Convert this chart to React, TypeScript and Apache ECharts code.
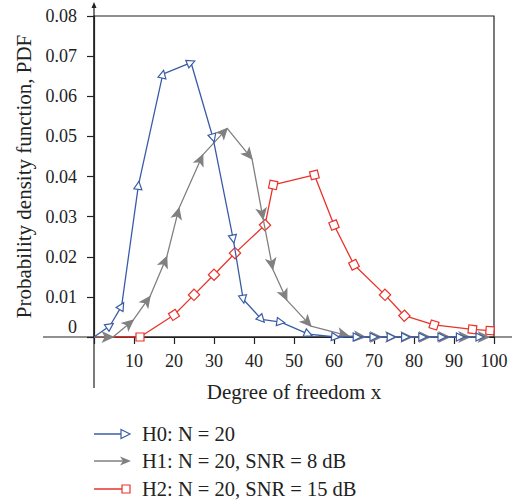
import React, { useEffect, useRef } from "react";
import * as echarts from "echarts";

const xTicks = [0, 10, 20, 30, 40, 50, 60, 70, 80, 90, 100];
const yTicks = [0, 0.01, 0.02, 0.03, 0.04, 0.05, 0.06, 0.07, 0.08];

const h0X = [0, 4, 6.9, 11.1, 17.2, 24.25, 29.75, 34.8, 37.3, 41.9, 46.7, 53.6, 60.4, 65.8, 70, 74.3, 77.9, 82.2, 87, 91.6, 96.5];
const h0Y = [0, 0.0028, 0.0077, 0.0378, 0.0655, 0.0684, 0.0496, 0.0244, 0.0094, 0.0044, 0.0037, 0.0007, 0, 0, 0, 0, 0, 0, 0, 0, 0];

const h1X = [0, 4.75, 9.8, 14, 18.2, 21.25, 27.2, 33.3, 39.5, 42.3, 44.7, 48.2, 54.25, 63.6, 67.75, 71.8, 75.6, 79.45, 84, 88.9, 93.9, 98.75];
const h1Y = [0, 0, 0.0042, 0.0101, 0.02, 0.0321, 0.0454, 0.052, 0.0444, 0.0294, 0.0169, 0.0092, 0.0027, 0.0003, 0, 0, 0, 0, 0, 0, 0, 0];

const h2X = [0, 11.5, 20, 25, 30, 35.25, 42.75, 44.8, 55.1, 60, 65, 72.75, 77.6, 85, 94.6, 99];
const h2Y = [0, 0, 0.0055, 0.0105, 0.0155, 0.0209, 0.0279, 0.0379, 0.0404, 0.0279, 0.018, 0.0105, 0.0053, 0.003, 0.0019, 0.0016];

const seriesNames = ["H0: N = 20", "H1: N = 20, SNR = 8 dB", "H2: N = 20, SNR = 15 dB"];
const BLUE = "#3a5ca8";
const GRAY = "#808080";
const RED = "#e8322a";
const FONT = "Liberation Serif";

const zip = (xs: number[], ys: number[]) => xs.map((x, i) => [x, ys[i]]);

export default function App() {
  const ref = useRef<HTMLDivElement>(null);
  useEffect(() => {
    document.body.style.margin = "0";
    const chart = echarts.init(ref.current!, undefined, { renderer: "svg" });
    const sets = [zip(h0X, h0Y), zip(h1X, h1Y), zip(h2X, h2Y)];
    const symbols = ["triangle", "arrow", "rect"];
    const colors = [BLUE, GRAY, RED];
    const sizes: any[] = [[8, 8], [7, 10], 8];

    const makeSeries = (rots: number[][] | null) =>
      sets.map((d, s) => ({
        type: "line",
        name: seriesNames[s],
        z: 3 - s,
        data: d.map((p, i) => ({
          value: p,
          symbol: i === 0 ? "none" : symbols[s],
          symbolRotate: rots ? rots[s][i] : 0,
        })),
        symbolSize: sizes[s],
        showAllSymbol: true,
        lineStyle: { color: colors[s], width: 1.3 },
        itemStyle: {
          color: s === 1 ? GRAY : "#ffffff",
          borderColor: colors[s],
          borderWidth: 1.2,
        },
      }));

    const ly = [434, 461, 489];
    const legendGraphics: any[] = [];
    ly.forEach((yy, s) => {
      legendGraphics.push({
        type: "line",
        shape: { x1: 94, y1: yy, x2: 127, y2: yy },
        style: { stroke: colors[s], lineWidth: 1.3 },
      });
      if (s === 0) {
        legendGraphics.push({
          type: "polygon",
          shape: { points: [[121, yy - 4.5], [130, yy], [121, yy + 4.5]] },
          style: { fill: "#fff", stroke: BLUE, lineWidth: 1.2 },
        });
      } else if (s === 1) {
        legendGraphics.push({
          type: "polygon",
          shape: { points: [[120, yy - 4.5], [131, yy], [120, yy + 4.5], [123, yy]] },
          style: { fill: GRAY },
        });
      } else {
        legendGraphics.push({
          type: "rect",
          shape: { x: 122, y: yy - 4, width: 8, height: 8 },
          style: { fill: "#fff", stroke: RED, lineWidth: 1.2 },
        });
      }
      legendGraphics.push({
        type: "text",
        x: 142,
        y: yy,
        style: {
          text: seriesNames[s],
          font: `20.5px "${FONT}"`,
          fill: "#222",
          verticalAlign: "middle",
          align: "left",
        },
      });
    });

    const axisGraphics = [
      { type: "line", shape: { x1: 94, y1: 4, x2: 94, y2: 388 }, style: { stroke: "#222", lineWidth: 1.2 } },
      { type: "line", shape: { x1: 43, y1: 337, x2: 512, y2: 337 }, style: { stroke: "#222", lineWidth: 1.2 } },
      { type: "polygon", shape: { points: [[91.5, 8], [94, 2], [96.5, 8]] }, style: { fill: "#222" } },
    ];

    const option: any = {
      animation: false,
      backgroundColor: "#ffffff",
      grid: {
        left: 94,
        right: 18,
        top: 16,
        bottom: 165,
        show: true,
        borderColor: "#222",
        borderWidth: 1.2,
      },
      xAxis: {
        type: "value",
        min: xTicks[0],
        max: xTicks[xTicks.length - 1],
        interval: 10,
        name: "Degree of freedom x",
        nameLocation: "middle",
        nameGap: 44,
        nameTextStyle: { fontFamily: FONT, fontSize: 21, color: "#222" },
        axisLine: { show: true, lineStyle: { color: "#222", width: 1.2 } },
        axisTick: { show: true, length: 7, lineStyle: { color: "#222", width: 1.2 } },
        axisLabel: {
          margin: 15,
          fontFamily: FONT,
          fontSize: 18,
          color: "#222",
          formatter: (v: number) => (v === 0 ? "" : String(v)),
        },
        splitLine: { show: false },
      },
      yAxis: {
        type: "value",
        min: yTicks[0],
        max: yTicks[yTicks.length - 1],
        interval: 0.01,
        name: "Probability density function, PDF",
        nameLocation: "middle",
        nameGap: 60,
        nameTextStyle: { fontFamily: FONT, fontSize: 21, color: "#222" },
        axisLine: { show: true, lineStyle: { color: "#222", width: 1.2 } },
        axisTick: { show: true, length: 7, lineStyle: { color: "#222", width: 1.2 } },
        axisLabel: {
          margin: 17,
          fontFamily: FONT,
          fontSize: 18,
          color: "#222",
          formatter: (v: number) => (v === 0 ? "{z|0}" : v.toFixed(2)),
          rich: { z: { fontFamily: FONT, fontSize: 18, color: "#222", padding: [0, 0, 20, 0] } },
        },
        splitLine: { show: false },
      },
      graphic: [...axisGraphics, ...legendGraphics],
      series: makeSeries(null),
    };
    chart.setOption(option);

    const rots = sets.map((d) =>
      d.map((p, i) => {
        const a = chart.convertToPixel({ gridIndex: 0 }, p) as number[];
        const q = chart.convertToPixel({ gridIndex: 0 }, i > 0 ? d[i - 1] : d[i + 1]) as number[];
        let dx = a[0] - q[0];
        let dy = a[1] - q[1];
        if (i === 0) { dx = -dx; dy = -dy; }
        const theta = (Math.atan2(-dy, dx) * 180) / Math.PI;
        return theta - 90;
      })
    );
    chart.setOption({ series: makeSeries(rots) });

    return () => chart.dispose();
  }, []);
  return <div ref={ref} style={{ width: 512, height: 502 }} />;
}
